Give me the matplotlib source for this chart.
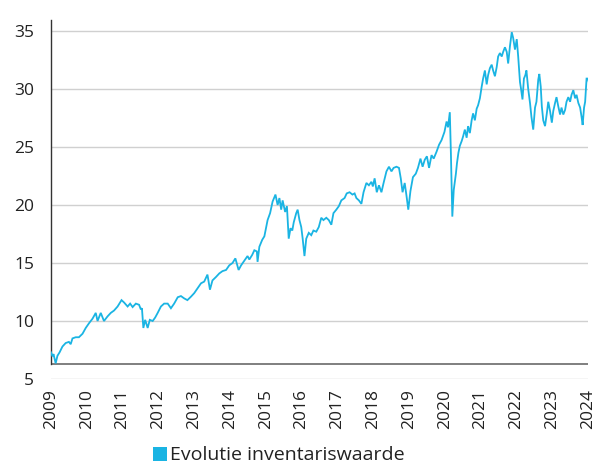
import matplotlib
matplotlib.use("Agg")
import matplotlib.pyplot as plt
from matplotlib.patches import Patch

# ---- data ----
years = [
    2009.00, 2009.04, 2009.07, 2009.13, 2009.18, 2009.24, 2009.32, 2009.41, 2009.50, 2009.55,
    2009.60, 2009.69, 2009.78, 2009.88, 2009.97, 2010.06, 2010.16, 2010.25, 2010.30, 2010.39,
    2010.48, 2010.58, 2010.67, 2010.76, 2010.86, 2010.97, 2011.04, 2011.14, 2011.21, 2011.28,
    2011.37, 2011.46, 2011.51, 2011.54, 2011.58, 2011.63, 2011.70, 2011.76, 2011.84, 2011.91,
    2011.98, 2012.07, 2012.16, 2012.26, 2012.35, 2012.44, 2012.54, 2012.63, 2012.72, 2012.81,
    2012.91, 2013.00, 2013.09, 2013.19, 2013.28, 2013.37, 2013.44, 2013.51, 2013.61, 2013.70,
    2013.79, 2013.89, 2013.98, 2014.07, 2014.15, 2014.24, 2014.31, 2014.40, 2014.49, 2014.54,
    2014.62, 2014.68, 2014.75, 2014.77, 2014.82, 2014.90, 2014.96, 2015.05, 2015.12, 2015.19,
    2015.27, 2015.33, 2015.38, 2015.43, 2015.47, 2015.54, 2015.59, 2015.64, 2015.69, 2015.74,
    2015.78, 2015.85, 2015.89, 2015.94, 2015.99, 2016.03, 2016.08, 2016.13, 2016.20, 2016.27,
    2016.33, 2016.41, 2016.48, 2016.55, 2016.61, 2016.69, 2016.76, 2016.83, 2016.89, 2016.97,
    2017.04, 2017.11, 2017.20, 2017.26, 2017.34, 2017.42, 2017.48, 2017.53, 2017.60, 2017.67,
    2017.73, 2017.81, 2017.88, 2017.95, 2017.99, 2018.04, 2018.10, 2018.16, 2018.23, 2018.29,
    2018.37, 2018.44, 2018.51, 2018.57, 2018.65, 2018.72, 2018.77, 2018.82, 2018.88, 2018.93,
    2018.98, 2019.04, 2019.11, 2019.19, 2019.25, 2019.32, 2019.38, 2019.44, 2019.50, 2019.56,
    2019.63, 2019.69, 2019.77, 2019.84, 2019.91, 2019.99, 2020.05, 2020.09, 2020.14, 2020.17,
    2020.21, 2020.25, 2020.31, 2020.34, 2020.38, 2020.42, 2020.47, 2020.51, 2020.56, 2020.61,
    2020.65, 2020.70, 2020.75, 2020.79, 2020.84, 2020.89, 2020.93, 2020.98, 2021.03, 2021.07,
    2021.12, 2021.17, 2021.21, 2021.26, 2021.31, 2021.35, 2021.40, 2021.45, 2021.49, 2021.54,
    2021.59, 2021.63, 2021.68, 2021.73, 2021.77, 2021.82, 2021.87, 2021.91, 2021.96, 2022.01,
    2022.05, 2022.10, 2022.13, 2022.17, 2022.21, 2022.25, 2022.28, 2022.33, 2022.38, 2022.42,
    2022.47, 2022.52, 2022.56, 2022.61, 2022.64, 2022.68, 2022.71, 2022.75, 2022.80, 2022.85,
    2022.89, 2022.94, 2022.99, 2023.03, 2023.08, 2023.12, 2023.17, 2023.22, 2023.26, 2023.31,
    2023.36, 2023.40, 2023.45, 2023.50, 2023.54, 2023.59, 2023.64, 2023.68, 2023.73, 2023.78,
    2023.82, 2023.85, 2023.89, 2023.92, 2023.96, 2024.00, 2024.03,
]
nav = [
    7.3, 6.95, 7.15, 6.35, 7.0, 7.3, 7.8, 8.1, 8.2, 8.0,
    8.5, 8.6, 8.6, 8.9, 9.4, 9.8, 10.2, 10.7, 10.0, 10.7,
    10.0, 10.4, 10.7, 10.9, 11.25, 11.8, 11.6, 11.25, 11.5, 11.2,
    11.5, 11.4, 11.0, 11.1, 9.4, 10.1, 9.4, 10.1, 10.0, 10.3,
    10.7, 11.25, 11.5, 11.5, 11.1, 11.5, 12.05, 12.15, 11.95, 11.8,
    12.1, 12.4, 12.8, 13.25, 13.4, 14.0, 12.7, 13.5, 13.8, 14.1,
    14.3, 14.4, 14.8, 15.0, 15.4, 14.4, 14.8, 15.2, 15.6, 15.3,
    15.7, 16.1, 16.0, 15.1, 16.4, 17.0, 17.3, 18.7, 19.3, 20.3,
    20.9, 20.0, 20.6, 19.6, 20.4, 19.4, 19.9, 17.1, 18.0, 17.8,
    18.5, 19.3, 19.6, 18.7, 18.1, 17.1, 15.6, 17.1, 17.6, 17.4,
    17.8, 17.7, 18.1, 18.9, 18.7, 18.9, 18.7, 18.3, 19.3, 19.6,
    19.9, 20.4, 20.6, 21.0, 21.1, 20.9, 21.0, 20.6, 20.4, 20.1,
    21.1, 21.9, 21.7, 22.0, 21.6, 22.3, 21.1, 21.7, 21.1, 21.9,
    22.9, 23.3, 22.9, 23.2, 23.3, 23.2, 22.3, 21.1, 21.9, 20.8,
    19.6, 21.2, 22.4, 22.7, 23.2, 24.0, 23.3, 23.9, 24.2, 23.2,
    24.3, 24.0, 24.6, 25.2, 25.6, 26.3, 27.2, 26.7, 28.0, 24.5,
    19.0, 21.3, 22.7, 23.6, 24.5, 25.1, 25.5, 25.9, 26.5, 25.8,
    26.8, 26.2, 27.3, 27.9, 27.3, 28.3, 28.6, 29.2, 30.2, 30.9,
    31.6, 30.4, 31.2, 31.8, 32.1, 31.6, 31.1, 31.9, 32.8, 33.1,
    32.8, 33.2, 33.6, 33.2, 32.2, 33.7, 34.9, 34.4, 33.4, 34.3,
    32.8, 30.6, 30.0, 29.1, 30.9, 31.2, 31.6, 30.0, 28.8, 27.6,
    26.5, 28.4, 28.9, 30.8, 31.3, 30.2, 28.5, 27.3, 26.8, 27.9,
    28.9, 28.1, 27.1, 28.1, 28.8, 29.3, 28.5, 27.8, 28.4, 27.8,
    28.2, 28.9, 29.3, 28.9, 29.5, 29.9, 29.2, 29.5, 28.8, 28.4,
    27.6, 26.9, 28.4, 28.9, 30.9, 30.9, 30.5,
]
assert len(years) == len(nav)

tick_years = list(range(2009, 2025))
tick_labels = [str(y) for y in tick_years]
y_ticks = [5, 10, 15, 20, 25, 30, 35]
series_name = "Evolutie inventariswaarde"

LINE_COLOR = "#1ab4e3"

plt.rcParams["font.family"] = ["Open Sans", "DejaVu Sans"]

fig = plt.figure(figsize=(5.97, 4.73), dpi=100)
ax = fig.add_axes([51 / 597, 1 - 379 / 473, 537 / 597, 359 / 473])

ax.plot(years, nav, color=LINE_COLOR, lw=1.3, solid_joinstyle="miter", zorder=3)

ax.set_xlim(2009, 2024)
ax.set_ylim(5, 35.95)
ax.set_yticks(y_ticks)
ax.set_xticks(tick_years)
ax.set_xticklabels(tick_labels, rotation=90)
ax.tick_params(axis="both", length=0, labelsize=12.5, colors="#222222")
ax.tick_params(axis="y", pad=12)
ax.tick_params(axis="x", pad=7)

ax.grid(axis="y", color="#d0d0d0", lw=1.0, zorder=0)
ax.grid(axis="x", visible=False)
for s in ["top", "right", "bottom"]:
    ax.spines[s].set_visible(False)
ax.spines["left"].set_color("#333333")
ax.spines["left"].set_linewidth(1.0)
ax.spines["left"].set_bounds(6.29, 35.95)
ax.axhline(6.29, color="#7f7f7f", lw=1.4, zorder=2)

handle = Patch(facecolor=LINE_COLOR, edgecolor="none", label=series_name)
fig.legend(handles=[handle], loc="center", bbox_to_anchor=(0.467, 0.037),
           frameon=False, fontsize=14, handlelength=0.72, handleheight=0.72,
           handletextpad=0.15, labelcolor="#222222")

fig.savefig("out.png", dpi=100)
